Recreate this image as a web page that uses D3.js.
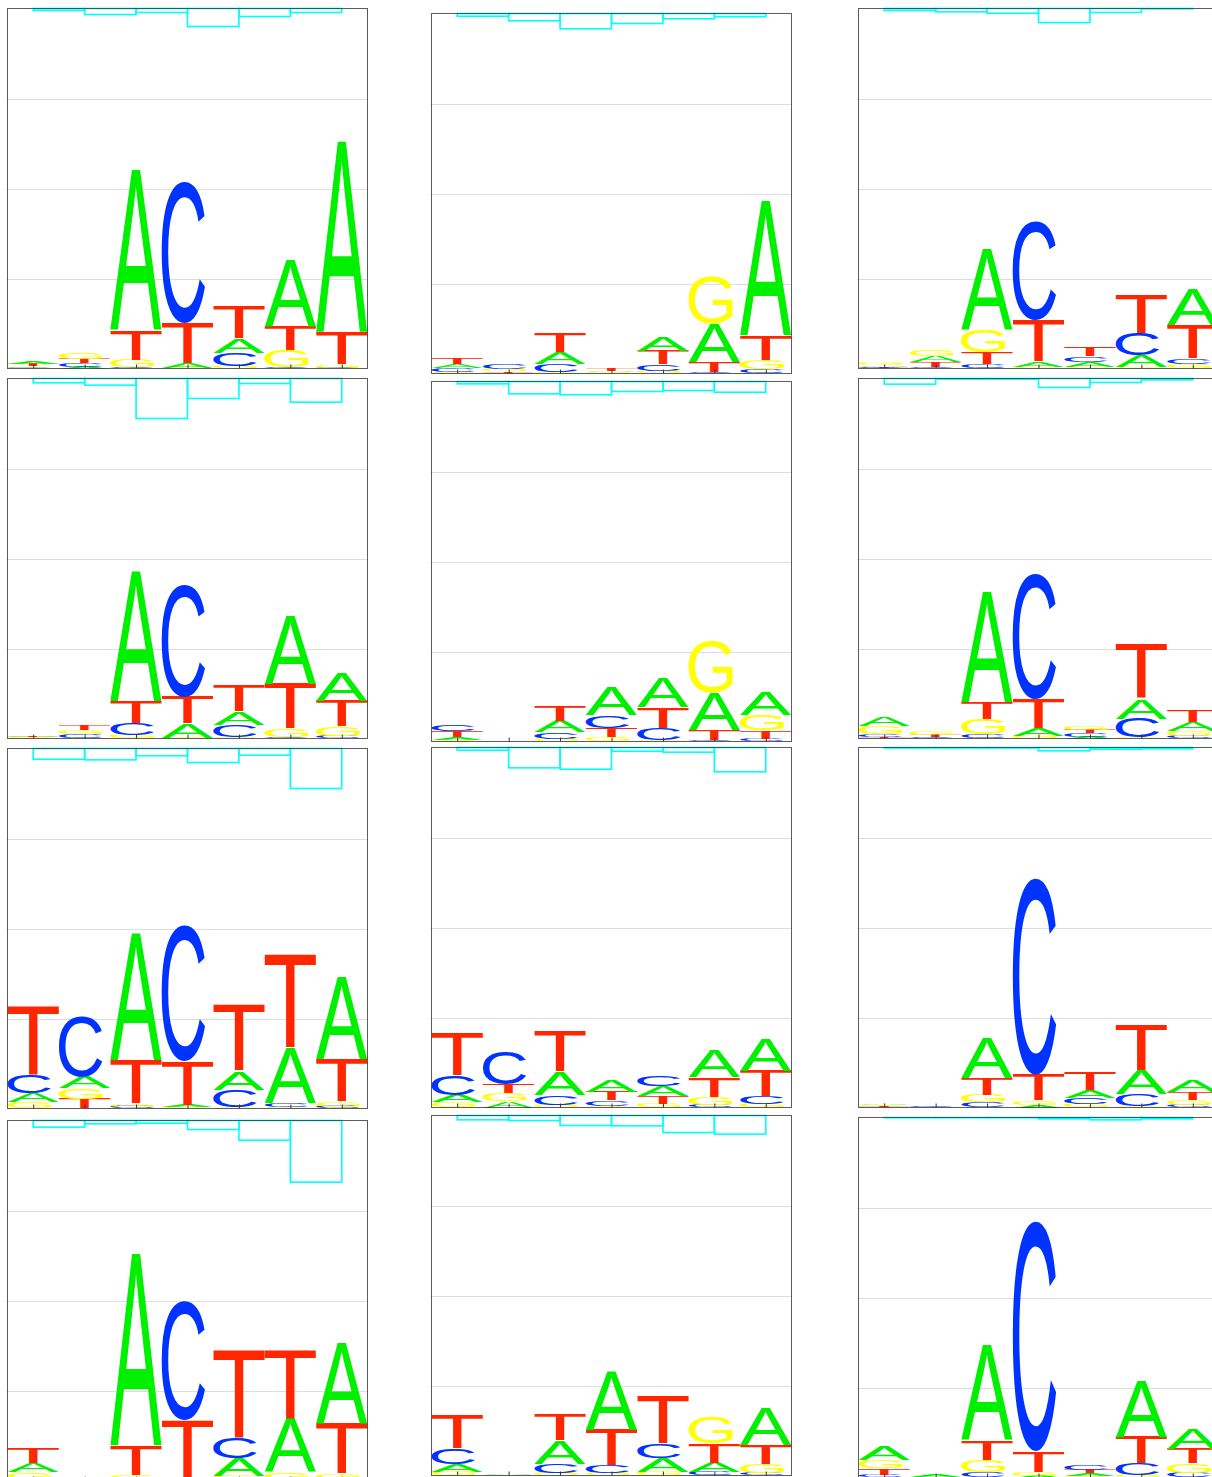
<!DOCTYPE html>
<html><head><meta charset="utf-8">
<script src="https://cdn.jsdelivr.net/npm/d3@7"></script>
<style>body{margin:0;background:#fff}</style>
</head><body>
<svg id="chart" width="1212" height="1477"></svg>
<script>
const bases = ["A", "C", "G", "T"];
const positions = [1, 2, 3, 4, 5, 6, 7];
const yTicks = [1, 2, 3];

// stacked heights per position, in order [A, C, G, T]
const logo_r1c1 = [[0.022,0.008,0.018,0.02],[0.02,0.04,0.07,0.05],[1.785,0.01,0.08,0.335],[0.05,1.573,0.01,0.447],[0.155,0.15,0.025,0.355],[0.741,0.01,0.194,0.266],[2.119,0.01,0.034,0.363]];
const logo_r1c2 = [[0.045,0.04,0.018,0.075],[0.01,0.05,0.022,0.015],[0.13,0.09,0.02,0.222],[0.01,0.004,0.008,0.022],[0.16,0.074,0.03,0.151],[0.426,0.012,0.525,0.118],[1.489,0.044,0.104,0.278]];
const logo_r1c3 = [[0.015,0.01,0.03,0.008],[0.063,0.018,0.078,0.055],[0.896,0.044,0.248,0.134],[0.061,1.1,0.02,0.456],[0.054,0.063,0.02,0.104],[0.133,0.241,0.015,0.437],[0.397,0.063,0.048,0.37]];
const logo_r2c1 = [[0.01,0.005,0.008,0.009],[0.01,0.035,0.045,0.05],[1.437,0.13,0.04,0.249],[0.16,1.237,0.01,0.297],[0.146,0.135,0.015,0.289],[0.759,0.015,0.089,0.5],[0.314,0.03,0.1,0.289]];
const logo_r2c2 = [[0.033,0.072,0.015,0.07],[0.002,0.002,0.002,0.002],[0.122,0.074,0.03,0.174],[0.315,0.137,0.048,0.104],[0.326,0.128,0.02,0.233],[0.407,0.015,0.567,0.115],[0.248,0.03,0.167,0.092]];
const logo_r2c3 = [[0.095,0.03,0.09,0.015],[0.005,0.01,0.04,0.02],[1.223,0.048,0.167,0.192],[0.081,1.393,0.03,0.333],[0.02,0.035,0.045,0.04],[0.215,0.212,0.01,0.6],[0.093,0.03,0.055,0.129]];
const logo_r3c1 = [[0.104,0.204,0.07,0.759],[0.125,0.667,0.12,0.107],[1.404,0.02,0.032,0.485],[0.022,1.507,0.015,0.489],[0.204,0.196,0.015,0.729],[0.607,0.036,0.02,1.037],[0.911,0.02,0.061,0.471]];
const logo_r3c2 = [[0.078,0.218,0.063,0.471],[0.07,0.359,0.09,0.1],[0.259,0.107,0.03,0.452],[0.133,0.061,0.02,0.093],[0.111,0.122,0.037,0.089],[0.296,0.03,0.089,0.222],[0.352,0.079,0.04,0.288]];
const logo_r3c3 = [[0.014,0.005,0.01,0.008],[0.002,0.006,0.001,0.001],[0.433,0.056,0.085,0.185],[0.03,2.185,0.044,0.289],[0.082,0.071,0.04,0.196],[0.267,0.128,0.02,0.504],[0.122,0.03,0.051,0.086]];
const logo_r4c1 = [[0.093,0.02,0.076,0.167],[0.005,0.005,0.02,0.005],[2.129,0.01,0.05,0.333],[0.012,1.315,0.01,0.65],[0.194,0.23,0.05,0.974],[0.599,0.02,0.07,0.759],[0.9,0.02,0.058,0.555]];
const logo_r4c2 = [[0.086,0.174,0.044,0.37],[0.015,0.003,0.003,0.003],[0.259,0.1,0.03,0.285],[0.656,0.081,0.03,0.4],[0.153,0.159,0.04,0.537],[0.106,0.035,0.296,0.211],[0.407,0.03,0.1,0.211]];
const logo_r4c3 = [[0.159,0.03,0.093,0.07],[0.02,0.002,0.002,0.002],[1.048,0.063,0.13,0.222],[0.02,2.555,0.043,0.23],[0.03,0.057,0.015,0.035],[0.618,0.126,0.03,0.296],[0.222,0.05,0.106,0.166]];

// cyan bars hanging from the top, one per pair of adjacent positions
const cyan_r1c1 = [0.022,0.067,0.044,0.2,0.089,0.044];
const cyan_r1c2 = [0.03,0.081,0.17,0.111,0.059,0.037];
const cyan_r1c3 = [0.022,0.037,0.052,0.156,0.044,0.004];
const cyan_r2c1 = [0.048,0.074,0.444,0.222,0.056,0.263];
const cyan_r2c2 = [0.026,0.137,0.148,0.111,0.1,0.119];
const cyan_r2c3 = [0.063,0.008,0.008,0.1,0.044,0.015];
const cyan_r3c1 = [0.119,0.126,0.081,0.156,0.074,0.444];
const cyan_r3c2 = [0.03,0.226,0.241,0.041,0.052,0.27];
const cyan_r3c3 = [0.006,0.006,0.006,0.037,0.019,0.015];
const cyan_r4c1 = [0.074,0.037,0.03,0.1,0.219,0.685];
const cyan_r4c2 = [0.048,0.056,0.111,0.115,0.189,0.207];
const cyan_r4c3 = [0.003,0.003,0.003,0.015,0.026,0.015];

const logos = [logo_r1c1, logo_r1c2, logo_r1c3, logo_r2c1, logo_r2c2, logo_r2c3,
               logo_r3c1, logo_r3c2, logo_r3c3, logo_r4c1, logo_r4c2, logo_r4c3];
const cyans = [cyan_r1c1, cyan_r1c2, cyan_r1c3, cyan_r2c1, cyan_r2c2, cyan_r2c3,
               cyan_r3c1, cyan_r3c2, cyan_r3c3, cyan_r4c1, cyan_r4c2, cyan_r4c3];

// layout
const colLeft = [7.5, 431.5, 858.5];
const panelTops = [[8.5, 13.5, 8.5], [378.5, 381.5, 378.5], [748.5, 747.5, 747.5], [1120.5, 1115.5, 1117.5]];
const PW = 360, PH = 360;
const colors = {A: "#00f000", C: "#0033ff", G: "#ffff00", T: "#ff2600"};
const widthFrac = {A: 1.0, C: 0.85, G: 0.86, T: 1.0};
const FONT = "Liberation Sans";

// glyph ink metrics
const ctx = document.createElement("canvas").getContext("2d");
ctx.font = `100px "${FONT}"`;
const fallback = {A:{l:0.2,r:66.9,a:71.6,d:0}, C:{l:-5,r:68,a:73.7,d:1.2}, G:{l:-4.8,r:71.5,a:73.7,d:1.2}, T:{l:-2.3,r:59,a:71.6,d:0}};
const metrics = {};
bases.forEach(b => {
  const m = ctx.measureText(b);
  let l = m.actualBoundingBoxLeft, r = m.actualBoundingBoxRight, a = m.actualBoundingBoxAscent, d = m.actualBoundingBoxDescent;
  if (!(a > 0) || !(r > 0)) { ({l, r, a, d} = fallback[b]); }
  metrics[b] = {l, r, a, d};
});

const svg = d3.select("#chart");
svg.append("rect").attr("width", 1212).attr("height", 1477).attr("fill", "#fff");

logos.forEach((logo, i) => {
  const row = Math.floor(i / 3), col = i % 3;
  const left = colLeft[col], top = panelTops[row][col];
  const x = d3.scaleLinear().domain([0.5, 7.5]).range([left, left + PW]);
  const y = d3.scaleLinear().domain([0, 4]).range([top + PH, top]);
  const g = svg.append("g");

  g.append("g").selectAll("line").data(yTicks).join("line")
    .attr("x1", left - 1).attr("x2", left + PW)
    .attr("y1", d => Math.round(y(d)) + 0.5).attr("y2", d => Math.round(y(d)) + 0.5)
    .attr("stroke", "#dddddd").attr("stroke-width", 1);

  const colW = x(1.5) - x(0.5);
  const lg = g.append("g");
  logo.forEach((vals, j) => {
    const pos = positions[j];
    const stack = bases.map((b, k) => ({b, v: vals[k]})).sort((a, c) => a.v - c.v);
    let acc = 0;
    stack.forEach(s => {
      const y0 = y(acc), y1 = y(acc + s.v);
      acc += s.v;
      const h = y0 - y1;
      if (h < 0.4) return;
      const m = metrics[s.b];
      const w = colW * widthFrac[s.b];
      const sx = w / (m.l + m.r), sy = h / (m.a + m.d);
      lg.append("text").text(s.b)
        .attr("font-family", FONT).attr("font-size", 100)
        .attr("fill", colors[s.b])
        .attr("transform", `translate(${x(pos - 0.5)},${y1}) scale(${sx},${sy}) translate(${m.l},${m.a})`);
    });
  });

  const cyan = cyans[i];
  g.append("g").selectAll("rect").data(cyan).join("rect")
    .attr("x", (d, k) => x(positions[k]))
    .attr("width", (d, k) => x(positions[k + 1]) - x(positions[k]))
    .attr("y", y(4))
    .attr("height", d => y(4 - d) - y(4))
    .attr("fill", "none").attr("stroke", "#00ffff").attr("stroke-width", 1.6);

  const ax = g.append("g").attr("transform", `translate(0,${top + PH})`)
    .call(d3.axisBottom(x).tickValues(positions).tickSize(-4).tickFormat(""));
  ax.select(".domain").remove();
  ax.selectAll("line").attr("stroke", "#333");

  g.append("rect").attr("x", left).attr("y", top).attr("width", PW).attr("height", PH)
    .attr("fill", "none").attr("stroke", "#333").attr("stroke-opacity", 0.8).attr("stroke-width", 1);
});
</script>
</body></html>
